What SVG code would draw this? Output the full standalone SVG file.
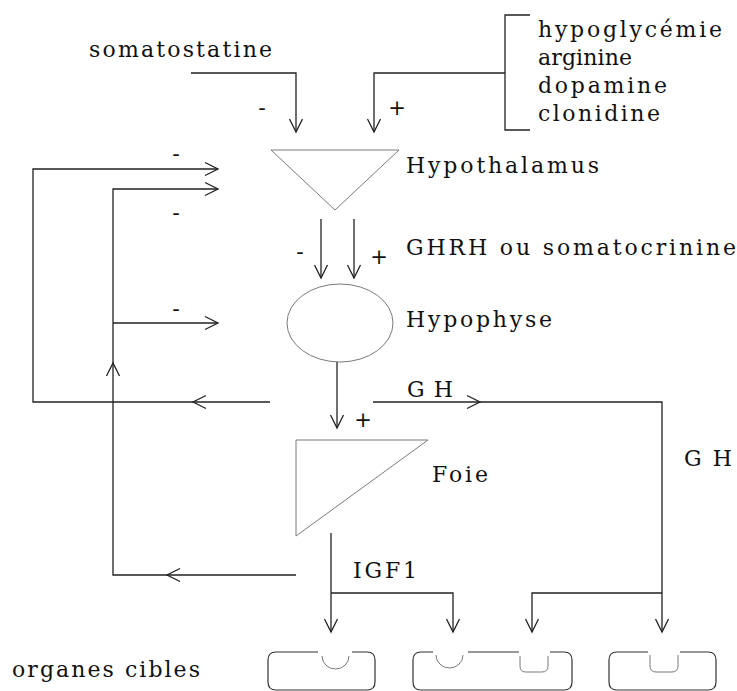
<svg xmlns="http://www.w3.org/2000/svg" width="737" height="691" viewBox="0 0 737 691">
<defs>
<style>
.t{font-family:"DejaVu Serif","Liberation Serif",serif;font-size:22px;fill:#111}
.s{font-family:"DejaVu Sans","Liberation Sans",sans-serif;font-size:21px;fill:#111;text-anchor:middle}
.c{fill:none;stroke:#222;stroke-width:1.3}
.sh{fill:none;stroke:#7a7a7a;stroke-width:1}
.o{fill:none;stroke:#333;stroke-width:1.2}
</style>
<marker id="a" markerUnits="userSpaceOnUse" markerWidth="16" markerHeight="16" viewBox="-14 -8 16 16" refX="0" refY="0" orient="auto">
<path d="M-13,-6.5 L0,0 L-13,6.5" fill="none" stroke="#222" stroke-width="1.3"/>
</marker>
</defs>
<rect width="737" height="691" fill="#fff"/>

<g id="connectors">
<path class="c" d="M191,73 H296 V132" marker-end="url(#a)" stroke="#777"/>
<path class="c" d="M505,73 H374 V132" marker-end="url(#a)"/>
<path class="c" d="M530,15 H505 V130 H530"/>
<path class="c" d="M321,219 V278" marker-end="url(#a)"/>
<path class="c" d="M354,219 V278" marker-end="url(#a)"/>
<path class="c" d="M337,362 V428" marker-end="url(#a)"/>
<path class="c" d="M270,402 H193" marker-end="url(#a)"/>
<path class="c" d="M193,402 H33 V169 H218" marker-end="url(#a)"/>
<path class="c" d="M373,402 H480" marker-end="url(#a)"/>
<path class="c" d="M480,402 H662 V632" marker-end="url(#a)"/>
<path class="c" d="M662,593 H532 V632" marker-end="url(#a)"/>
<path class="c" d="M331,533 V632" marker-end="url(#a)"/>
<path class="c" d="M331,593 H453 V632" marker-end="url(#a)"/>
<path class="c" d="M296,575 H167" marker-end="url(#a)"/>
<path class="c" d="M167,575 H113 V363" marker-end="url(#a)"/>
<path class="c" d="M113,363 V189 H218" marker-end="url(#a)"/>
<path class="c" d="M113,323 H218" marker-end="url(#a)"/>
</g>

<g id="signs">
<text class="s" x="262" y="115">-</text>
<text class="s" x="397" y="115">+</text>
<text class="s" x="176" y="161">-</text>
<text class="s" x="176" y="220">-</text>
<text class="s" x="176" y="316">-</text>
<text class="s" x="300" y="259">-</text>
<text class="s" x="379" y="264">+</text>
<text class="s" x="363" y="427">+</text>
</g>

<g id="somatostatine">
<text class="t" x="89" y="57" textLength="183" lengthAdjust="spacing">somatostatine</text>
</g>

<g id="stimulants">
<text class="t" x="538" y="37" textLength="184" lengthAdjust="spacing">hypoglycémie</text>
<text class="t" x="538" y="65" textLength="94" lengthAdjust="spacing">arginine</text>
<text class="t" x="538" y="93" textLength="129" lengthAdjust="spacing">dopamine</text>
<text class="t" x="538" y="121" textLength="122" lengthAdjust="spacing">clonidine</text>
</g>

<g id="hypothalamus">
<path class="sh" d="M271,150 H399 L335,210 Z"/>
<text class="t" x="406" y="173" textLength="193" lengthAdjust="spacing">Hypothalamus</text>
</g>

<g id="ghrh">
<text class="t" x="406" y="255" textLength="330" lengthAdjust="spacing">GHRH ou somatocrinine</text>
</g>

<g id="hypophyse">
<path class="sh" d="M287,323 A53,39 0 1 1 393,323 A53,39 0 1 1 287,323 Z"/>
<text class="t" x="406" y="327" textLength="146" lengthAdjust="spacing">Hypophyse</text>
</g>

<g id="gh-label">
<text class="t" x="407" y="397" textLength="46" lengthAdjust="spacing">GH</text>
<text class="t" x="684" y="466" textLength="48" lengthAdjust="spacing">GH</text>
</g>

<g id="foie">
<path class="sh" d="M296,440 H428 L296,536 Z"/>
<text class="t" x="432" y="482" textLength="56" lengthAdjust="spacing">Foie</text>
</g>

<g id="igf1">
<text class="t" x="353" y="578" textLength="64" lengthAdjust="spacing">IGF1</text>
</g>

<g id="organes-cibles">
<text class="t" x="12" y="677" textLength="188" lengthAdjust="spacing">organes cibles</text>
<path class="o" d="M318,652 H276 Q268,652 268,660 V682 Q268,690 276,690 H367 Q375,690 375,682 V660 Q375,652 367,652 H352"/>
<path class="sh" d="M322,656 A13.5,13 0 0 0 349,656"/>
<path class="o" d="M433,652 H421 Q413,652 413,660 V682 Q413,690 421,690 H564 Q572,690 572,682 V660 Q572,652 564,652 H550 M468,652 H519"/>
<path class="sh" d="M436,655 A13.5,13 0 0 0 463,655"/>
<path class="sh" d="M520,656 V666 Q520,672 526,672 H542 Q548,672 548,666 V656"/>
<path class="o" d="M648,652 H617 Q609,652 609,660 V682 Q609,690 617,690 H708 Q716,690 716,682 V660 Q716,652 708,652 H680"/>
<path class="sh" d="M650,655 V666 Q650,672 656,672 H672 Q678,672 678,666 V655"/>
</g>
</svg>
